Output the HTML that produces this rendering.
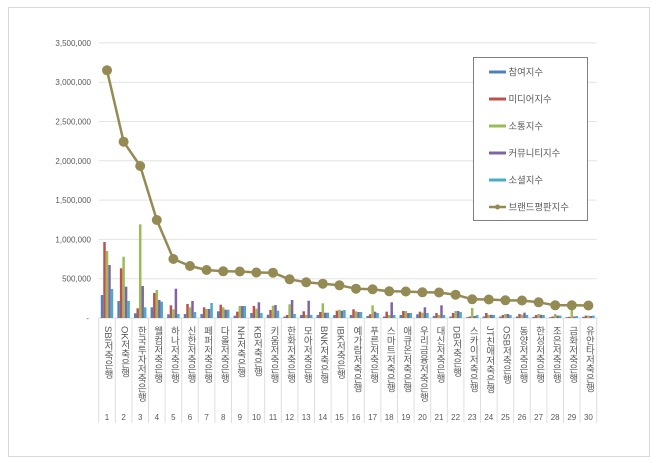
<!DOCTYPE html>
<html><head><meta charset="utf-8"><style>
html,body{margin:0;padding:0;background:#fff;}
#c{position:relative;width:660px;height:463px;overflow:hidden;font-family:"Liberation Sans","Noto Sans CJK KR",sans-serif;}
svg{position:absolute;left:0;top:0;}
.lb{position:absolute;top:326px;width:10px;writing-mode:vertical-rl;text-orientation:mixed;font-size:9.5px;line-height:10px;color:#595959;white-space:nowrap;font-family:"Liberation Sans","Noto Sans CJK KR",sans-serif;}
</style></head><body><div id="c">
<svg width="660" height="463" viewBox="0 0 660 463" xmlns="http://www.w3.org/2000/svg" font-family="Liberation Sans, Noto Sans CJK KR, sans-serif">
<rect x="8.5" y="7.5" width="641" height="449" fill="#fff" stroke="#d9d9d9"/>
<g stroke="#e3e3e3" stroke-width="1">
<line x1="98.7" x2="596.7" y1="42.9" y2="42.9"/>
<line x1="98.7" x2="596.7" y1="82.2" y2="82.2"/>
<line x1="98.7" x2="596.7" y1="121.5" y2="121.5"/>
<line x1="98.7" x2="596.7" y1="160.8" y2="160.8"/>
<line x1="98.7" x2="596.7" y1="200.1" y2="200.1"/>
<line x1="98.7" x2="596.7" y1="239.4" y2="239.4"/>
<line x1="98.7" x2="596.7" y1="278.7" y2="278.7"/>
</g>
<line x1="98.7" x2="596.7" y1="318" y2="318" stroke="#d9d9d9"/>
<g stroke="#dedede" stroke-width="1">
<line x1="98.7" x2="98.7" y1="318" y2="423"/><line x1="115.3" x2="115.3" y1="318" y2="423"/><line x1="131.9" x2="131.9" y1="318" y2="423"/><line x1="148.5" x2="148.5" y1="318" y2="423"/><line x1="165.1" x2="165.1" y1="318" y2="423"/><line x1="181.7" x2="181.7" y1="318" y2="423"/><line x1="198.3" x2="198.3" y1="318" y2="423"/><line x1="214.9" x2="214.9" y1="318" y2="423"/><line x1="231.5" x2="231.5" y1="318" y2="423"/><line x1="248.1" x2="248.1" y1="318" y2="423"/><line x1="264.7" x2="264.7" y1="318" y2="423"/><line x1="281.3" x2="281.3" y1="318" y2="423"/><line x1="297.9" x2="297.9" y1="318" y2="423"/><line x1="314.5" x2="314.5" y1="318" y2="423"/><line x1="331.1" x2="331.1" y1="318" y2="423"/><line x1="347.7" x2="347.7" y1="318" y2="423"/><line x1="364.3" x2="364.3" y1="318" y2="423"/><line x1="380.9" x2="380.9" y1="318" y2="423"/><line x1="397.5" x2="397.5" y1="318" y2="423"/><line x1="414.1" x2="414.1" y1="318" y2="423"/><line x1="430.7" x2="430.7" y1="318" y2="423"/><line x1="447.3" x2="447.3" y1="318" y2="423"/><line x1="463.9" x2="463.9" y1="318" y2="423"/><line x1="480.5" x2="480.5" y1="318" y2="423"/><line x1="497.1" x2="497.1" y1="318" y2="423"/><line x1="513.7" x2="513.7" y1="318" y2="423"/><line x1="530.3" x2="530.3" y1="318" y2="423"/><line x1="546.9" x2="546.9" y1="318" y2="423"/><line x1="563.5" x2="563.5" y1="318" y2="423"/><line x1="580.1" x2="580.1" y1="318" y2="423"/><line x1="596.7" x2="596.7" y1="318" y2="423"/>
</g>
<g font-size="8" fill="#595959" text-anchor="end">
<text x="91" y="45.9">3,500,000</text>
<text x="91" y="85.2">3,000,000</text>
<text x="91" y="124.5">2,500,000</text>
<text x="91" y="163.8">2,000,000</text>
<text x="91" y="203.1">1,500,000</text>
<text x="91" y="242.4">1,000,000</text>
<text x="91" y="281.7">500,000</text>
<text x="89" y="321">-</text>
</g>
<g id="bars">
<g transform="translate(107.0,0)"><rect x="-6.22" y="295" width="2.49" height="23" fill="#4F81BD"/><rect x="-3.73" y="242" width="2.49" height="76" fill="#C0504D"/><rect x="-1.24" y="251" width="2.49" height="67" fill="#9BBB59"/><rect x="1.25" y="265" width="2.49" height="53" fill="#8064A2"/><rect x="3.74" y="289" width="2.49" height="29" fill="#4BACC6"/></g>
<g transform="translate(123.6,0)"><rect x="-6.22" y="301" width="2.49" height="17" fill="#4F81BD"/><rect x="-3.73" y="268.3" width="2.49" height="49.7" fill="#C0504D"/><rect x="-1.24" y="256.7" width="2.49" height="61.3" fill="#9BBB59"/><rect x="1.25" y="286.7" width="2.49" height="31.3" fill="#8064A2"/><rect x="3.74" y="301" width="2.49" height="17" fill="#4BACC6"/></g>
<g transform="translate(140.2,0)"><rect x="-6.22" y="313.3" width="2.49" height="4.7" fill="#4F81BD"/><rect x="-3.73" y="308.3" width="2.49" height="9.7" fill="#C0504D"/><rect x="-1.24" y="224.3" width="2.49" height="93.7" fill="#9BBB59"/><rect x="1.25" y="286" width="2.49" height="32" fill="#8064A2"/><rect x="3.74" y="307.3" width="2.49" height="10.7" fill="#4BACC6"/></g>
<g transform="translate(156.8,0)"><rect x="-6.22" y="307.3" width="2.49" height="10.7" fill="#4F81BD"/><rect x="-3.73" y="293" width="2.49" height="25" fill="#C0504D"/><rect x="-1.24" y="290" width="2.49" height="28" fill="#9BBB59"/><rect x="1.25" y="300" width="2.49" height="18" fill="#8064A2"/><rect x="3.74" y="301.7" width="2.49" height="16.3" fill="#4BACC6"/></g>
<g transform="translate(173.4,0)"><rect x="-6.22" y="314.3" width="2.49" height="3.7" fill="#4F81BD"/><rect x="-3.73" y="305.3" width="2.49" height="12.7" fill="#C0504D"/><rect x="-1.24" y="309.3" width="2.49" height="8.7" fill="#9BBB59"/><rect x="1.25" y="288.7" width="2.49" height="29.3" fill="#8064A2"/><rect x="3.74" y="314" width="2.49" height="4" fill="#4BACC6"/></g>
<g transform="translate(190.0,0)"><rect x="-6.22" y="314" width="2.49" height="4" fill="#4F81BD"/><rect x="-3.73" y="304" width="2.49" height="14" fill="#C0504D"/><rect x="-1.24" y="307.3" width="2.49" height="10.7" fill="#9BBB59"/><rect x="1.25" y="301" width="2.49" height="17" fill="#8064A2"/><rect x="3.74" y="312" width="2.49" height="6" fill="#4BACC6"/></g>
<g transform="translate(206.6,0)"><rect x="-6.22" y="314" width="2.49" height="4" fill="#4F81BD"/><rect x="-3.73" y="307.3" width="2.49" height="10.7" fill="#C0504D"/><rect x="-1.24" y="309" width="2.49" height="9" fill="#9BBB59"/><rect x="1.25" y="309" width="2.49" height="9" fill="#8064A2"/><rect x="3.74" y="303" width="2.49" height="15" fill="#4BACC6"/></g>
<g transform="translate(223.2,0)"><rect x="-6.22" y="311.3" width="2.49" height="6.7" fill="#4F81BD"/><rect x="-3.73" y="304.7" width="2.49" height="13.3" fill="#C0504D"/><rect x="-1.24" y="307.3" width="2.49" height="10.7" fill="#9BBB59"/><rect x="1.25" y="309.7" width="2.49" height="8.3" fill="#8064A2"/><rect x="3.74" y="309.7" width="2.49" height="8.3" fill="#4BACC6"/></g>
<g transform="translate(239.8,0)"><rect x="-6.22" y="315.7" width="2.49" height="2.3" fill="#4F81BD"/><rect x="-3.73" y="311.7" width="2.49" height="6.3" fill="#C0504D"/><rect x="-1.24" y="306" width="2.49" height="12" fill="#9BBB59"/><rect x="1.25" y="306" width="2.49" height="12" fill="#8064A2"/><rect x="3.74" y="306" width="2.49" height="12" fill="#4BACC6"/></g>
<g transform="translate(256.4,0)"><rect x="-6.22" y="313" width="2.49" height="5" fill="#4F81BD"/><rect x="-3.73" y="306" width="2.49" height="12" fill="#C0504D"/><rect x="-1.24" y="308.7" width="2.49" height="9.3" fill="#9BBB59"/><rect x="1.25" y="302.3" width="2.49" height="15.7" fill="#8064A2"/><rect x="3.74" y="313" width="2.49" height="5" fill="#4BACC6"/></g>
<g transform="translate(273.0,0)"><rect x="-6.22" y="314.7" width="2.49" height="3.3" fill="#4F81BD"/><rect x="-3.73" y="310" width="2.49" height="8" fill="#C0504D"/><rect x="-1.24" y="305.7" width="2.49" height="12.3" fill="#9BBB59"/><rect x="1.25" y="305" width="2.49" height="13" fill="#8064A2"/><rect x="3.74" y="310.7" width="2.49" height="7.3" fill="#4BACC6"/></g>
<g transform="translate(289.6,0)"><rect x="-6.22" y="316.5" width="2.49" height="1.5" fill="#4F81BD"/><rect x="-3.73" y="315" width="2.49" height="3" fill="#C0504D"/><rect x="-1.24" y="304.3" width="2.49" height="13.7" fill="#9BBB59"/><rect x="1.25" y="300" width="2.49" height="18" fill="#8064A2"/><rect x="3.74" y="314" width="2.49" height="4" fill="#4BACC6"/></g>
<g transform="translate(306.2,0)"><rect x="-6.22" y="315" width="2.49" height="3" fill="#4F81BD"/><rect x="-3.73" y="311.3" width="2.49" height="6.7" fill="#C0504D"/><rect x="-1.24" y="315" width="2.49" height="3" fill="#9BBB59"/><rect x="1.25" y="300.7" width="2.49" height="17.3" fill="#8064A2"/><rect x="3.74" y="315" width="2.49" height="3" fill="#4BACC6"/></g>
<g transform="translate(322.8,0)"><rect x="-6.22" y="315" width="2.49" height="3" fill="#4F81BD"/><rect x="-3.73" y="312" width="2.49" height="6" fill="#C0504D"/><rect x="-1.24" y="303.3" width="2.49" height="14.7" fill="#9BBB59"/><rect x="1.25" y="312.7" width="2.49" height="5.3" fill="#8064A2"/><rect x="3.74" y="312.7" width="2.49" height="5.3" fill="#4BACC6"/></g>
<g transform="translate(339.4,0)"><rect x="-6.22" y="315" width="2.49" height="3" fill="#4F81BD"/><rect x="-3.73" y="310.7" width="2.49" height="7.3" fill="#C0504D"/><rect x="-1.24" y="309.7" width="2.49" height="8.3" fill="#9BBB59"/><rect x="1.25" y="310.7" width="2.49" height="7.3" fill="#8064A2"/><rect x="3.74" y="310" width="2.49" height="8" fill="#4BACC6"/></g>
<g transform="translate(356.0,0)"><rect x="-6.22" y="315" width="2.49" height="3" fill="#4F81BD"/><rect x="-3.73" y="309.3" width="2.49" height="8.7" fill="#C0504D"/><rect x="-1.24" y="311.3" width="2.49" height="6.7" fill="#9BBB59"/><rect x="1.25" y="312" width="2.49" height="6" fill="#8064A2"/><rect x="3.74" y="312" width="2.49" height="6" fill="#4BACC6"/></g>
<g transform="translate(372.6,0)"><rect x="-6.22" y="316" width="2.49" height="2" fill="#4F81BD"/><rect x="-3.73" y="314.3" width="2.49" height="3.7" fill="#C0504D"/><rect x="-1.24" y="305.3" width="2.49" height="12.7" fill="#9BBB59"/><rect x="1.25" y="311.7" width="2.49" height="6.3" fill="#8064A2"/><rect x="3.74" y="313" width="2.49" height="5" fill="#4BACC6"/></g>
<g transform="translate(389.2,0)"><rect x="-6.22" y="316.5" width="2.49" height="1.5" fill="#4F81BD"/><rect x="-3.73" y="311.7" width="2.49" height="6.3" fill="#C0504D"/><rect x="-1.24" y="315" width="2.49" height="3" fill="#9BBB59"/><rect x="1.25" y="302.3" width="2.49" height="15.7" fill="#8064A2"/><rect x="3.74" y="315" width="2.49" height="3" fill="#4BACC6"/></g>
<g transform="translate(405.8,0)"><rect x="-6.22" y="315" width="2.49" height="3" fill="#4F81BD"/><rect x="-3.73" y="311" width="2.49" height="7" fill="#C0504D"/><rect x="-1.24" y="311" width="2.49" height="7" fill="#9BBB59"/><rect x="1.25" y="313" width="2.49" height="5" fill="#8064A2"/><rect x="3.74" y="313" width="2.49" height="5" fill="#4BACC6"/></g>
<g transform="translate(422.4,0)"><rect x="-6.22" y="314.3" width="2.49" height="3.7" fill="#4F81BD"/><rect x="-3.73" y="311.7" width="2.49" height="6.3" fill="#C0504D"/><rect x="-1.24" y="312.7" width="2.49" height="5.3" fill="#9BBB59"/><rect x="1.25" y="307.3" width="2.49" height="10.7" fill="#8064A2"/><rect x="3.74" y="313" width="2.49" height="5" fill="#4BACC6"/></g>
<g transform="translate(439.0,0)"><rect x="-6.22" y="316" width="2.49" height="2" fill="#4F81BD"/><rect x="-3.73" y="313" width="2.49" height="5" fill="#C0504D"/><rect x="-1.24" y="315" width="2.49" height="3" fill="#9BBB59"/><rect x="1.25" y="305.3" width="2.49" height="12.7" fill="#8064A2"/><rect x="3.74" y="315" width="2.49" height="3" fill="#4BACC6"/></g>
<g transform="translate(455.6,0)"><rect x="-6.22" y="316.5" width="2.49" height="1.5" fill="#4F81BD"/><rect x="-3.73" y="313" width="2.49" height="5" fill="#C0504D"/><rect x="-1.24" y="311" width="2.49" height="7" fill="#9BBB59"/><rect x="1.25" y="311" width="2.49" height="7" fill="#8064A2"/><rect x="3.74" y="312" width="2.49" height="6" fill="#4BACC6"/></g>
<g transform="translate(472.2,0)"><rect x="-6.22" y="317.2" width="2.49" height="0.8" fill="#4F81BD"/><rect x="-3.73" y="316.5" width="2.49" height="1.5" fill="#C0504D"/><rect x="-1.24" y="308" width="2.49" height="10" fill="#9BBB59"/><rect x="1.25" y="316" width="2.49" height="2" fill="#8064A2"/><rect x="3.74" y="315" width="2.49" height="3" fill="#4BACC6"/></g>
<g transform="translate(488.8,0)"><rect x="-6.22" y="316.5" width="2.49" height="1.5" fill="#4F81BD"/><rect x="-3.73" y="313" width="2.49" height="5" fill="#C0504D"/><rect x="-1.24" y="315" width="2.49" height="3" fill="#9BBB59"/><rect x="1.25" y="314.8" width="2.49" height="3.2" fill="#8064A2"/><rect x="3.74" y="315" width="2.49" height="3" fill="#4BACC6"/></g>
<g transform="translate(505.4,0)"><rect x="-6.22" y="316.5" width="2.49" height="1.5" fill="#4F81BD"/><rect x="-3.73" y="315" width="2.49" height="3" fill="#C0504D"/><rect x="-1.24" y="314" width="2.49" height="4" fill="#9BBB59"/><rect x="1.25" y="314" width="2.49" height="4" fill="#8064A2"/><rect x="3.74" y="315" width="2.49" height="3" fill="#4BACC6"/></g>
<g transform="translate(522.0,0)"><rect x="-6.22" y="316.5" width="2.49" height="1.5" fill="#4F81BD"/><rect x="-3.73" y="314" width="2.49" height="4" fill="#C0504D"/><rect x="-1.24" y="314.8" width="2.49" height="3.2" fill="#9BBB59"/><rect x="1.25" y="312.7" width="2.49" height="5.3" fill="#8064A2"/><rect x="3.74" y="315" width="2.49" height="3" fill="#4BACC6"/></g>
<g transform="translate(538.6,0)"><rect x="-6.22" y="316.8" width="2.49" height="1.2" fill="#4F81BD"/><rect x="-3.73" y="315" width="2.49" height="3" fill="#C0504D"/><rect x="-1.24" y="314" width="2.49" height="4" fill="#9BBB59"/><rect x="1.25" y="314.8" width="2.49" height="3.2" fill="#8064A2"/><rect x="3.74" y="315" width="2.49" height="3" fill="#4BACC6"/></g>
<g transform="translate(555.2,0)"><rect x="-6.22" y="317.2" width="2.49" height="0.8" fill="#4F81BD"/><rect x="-3.73" y="316.5" width="2.49" height="1.5" fill="#C0504D"/><rect x="-1.24" y="314" width="2.49" height="4" fill="#9BBB59"/><rect x="1.25" y="315.6" width="2.49" height="2.4" fill="#8064A2"/><rect x="3.74" y="315.6" width="2.49" height="2.4" fill="#4BACC6"/></g>
<g transform="translate(571.8,0)"><rect x="-6.22" y="317.2" width="2.49" height="0.8" fill="#4F81BD"/><rect x="-3.73" y="316.8" width="2.49" height="1.2" fill="#C0504D"/><rect x="-1.24" y="302" width="2.49" height="16" fill="#9BBB59"/><rect x="1.25" y="316.5" width="2.49" height="1.5" fill="#8064A2"/><rect x="3.74" y="316" width="2.49" height="2" fill="#4BACC6"/></g>
<g transform="translate(588.4,0)"><rect x="-6.22" y="316.8" width="2.49" height="1.2" fill="#4F81BD"/><rect x="-3.73" y="315.6" width="2.49" height="2.4" fill="#C0504D"/><rect x="-1.24" y="315.6" width="2.49" height="2.4" fill="#9BBB59"/><rect x="1.25" y="316" width="2.49" height="2" fill="#8064A2"/><rect x="3.74" y="315.6" width="2.49" height="2.4" fill="#4BACC6"/></g>
</g>
<polyline fill="none" stroke="#948A54" stroke-width="2.5" stroke-linejoin="round" points="107.0,70.3 123.6,141.7 140.2,166 156.8,220 173.4,259 190.0,266 206.6,270 223.2,271.3 239.8,271.5 256.4,272.5 273.0,272.7 289.6,279.3 306.2,282.3 322.8,283.7 339.4,285.3 356.0,288.7 372.6,289.3 389.2,291.3 405.8,291.5 422.4,292.3 439.0,292.5 455.6,294.7 472.2,299.3 488.8,299.5 505.4,300.3 522.0,300.5 538.6,302.3 555.2,305.3 571.8,305.3 588.4,305.5"/>
<g fill="#948A54">
<circle cx="107.0" cy="70.3" r="5"/><circle cx="123.6" cy="141.7" r="5"/><circle cx="140.2" cy="166" r="5"/><circle cx="156.8" cy="220" r="5"/><circle cx="173.4" cy="259" r="5"/><circle cx="190.0" cy="266" r="5"/><circle cx="206.6" cy="270" r="5"/><circle cx="223.2" cy="271.3" r="5"/><circle cx="239.8" cy="271.5" r="5"/><circle cx="256.4" cy="272.5" r="5"/><circle cx="273.0" cy="272.7" r="5"/><circle cx="289.6" cy="279.3" r="5"/><circle cx="306.2" cy="282.3" r="5"/><circle cx="322.8" cy="283.7" r="5"/><circle cx="339.4" cy="285.3" r="5"/><circle cx="356.0" cy="288.7" r="5"/><circle cx="372.6" cy="289.3" r="5"/><circle cx="389.2" cy="291.3" r="5"/><circle cx="405.8" cy="291.5" r="5"/><circle cx="422.4" cy="292.3" r="5"/><circle cx="439.0" cy="292.5" r="5"/><circle cx="455.6" cy="294.7" r="5"/><circle cx="472.2" cy="299.3" r="5"/><circle cx="488.8" cy="299.5" r="5"/><circle cx="505.4" cy="300.3" r="5"/><circle cx="522.0" cy="300.5" r="5"/><circle cx="538.6" cy="302.3" r="5"/><circle cx="555.2" cy="305.3" r="5"/><circle cx="571.8" cy="305.3" r="5"/><circle cx="588.4" cy="305.5" r="5"/>
</g>
<g font-size="8" fill="#595959" text-anchor="middle">
<text x="107.0" y="420">1</text><text x="123.6" y="420">2</text><text x="140.2" y="420">3</text><text x="156.8" y="420">4</text><text x="173.4" y="420">5</text><text x="190.0" y="420">6</text><text x="206.6" y="420">7</text><text x="223.2" y="420">8</text><text x="239.8" y="420">9</text><text x="256.4" y="420">10</text><text x="273.0" y="420">11</text><text x="289.6" y="420">12</text><text x="306.2" y="420">13</text><text x="322.8" y="420">14</text><text x="339.4" y="420">15</text><text x="356.0" y="420">16</text><text x="372.6" y="420">17</text><text x="389.2" y="420">18</text><text x="405.8" y="420">19</text><text x="422.4" y="420">20</text><text x="439.0" y="420">21</text><text x="455.6" y="420">22</text><text x="472.2" y="420">23</text><text x="488.8" y="420">24</text><text x="505.4" y="420">25</text><text x="522.0" y="420">26</text><text x="538.6" y="420">27</text><text x="555.2" y="420">28</text><text x="571.8" y="420">29</text><text x="588.4" y="420">30</text>
</g>
<rect x="473.5" y="57.5" width="114" height="163" fill="#fff" stroke="#808080"/>
<rect x="489" y="70.5" width="17" height="3" fill="#4F81BD"/>
<rect x="489" y="97.5" width="17" height="3" fill="#C0504D"/>
<rect x="489" y="124.5" width="17" height="3" fill="#9BBB59"/>
<rect x="489" y="151.5" width="17" height="3" fill="#8064A2"/>
<rect x="489" y="178.5" width="17" height="3" fill="#4BACC6"/>
<line x1="489" x2="506" y1="207" y2="207" stroke="#948A54" stroke-width="2.5"/>
<circle cx="497.5" cy="207" r="2.5" fill="#948A54"/>
<g font-size="9.4" fill="#595959">
<text x="508.5" y="75.3">참여지수</text>
<text x="508.5" y="102.3">미디어지수</text>
<text x="508.5" y="129.3">소통지수</text>
<text x="508.5" y="156.3">커뮤니티지수</text>
<text x="508.5" y="183.3">소셜지수</text>
<text x="508.5" y="210.3">브랜드평판지수</text>
</g>
</svg>
<div class="lb" style="left:102.0px">SBI저축은행</div>
<div class="lb" style="left:118.6px">OK저축은행</div>
<div class="lb" style="left:135.2px">한국투자저축은행</div>
<div class="lb" style="left:151.8px">웰컴저축은행</div>
<div class="lb" style="left:168.4px">하나저축은행</div>
<div class="lb" style="left:185.0px">신한저축은행</div>
<div class="lb" style="left:201.6px">페퍼저축은행</div>
<div class="lb" style="left:218.2px">다올저축은행</div>
<div class="lb" style="left:234.8px">NH저축은행</div>
<div class="lb" style="left:251.4px">KB저축은행</div>
<div class="lb" style="left:268.0px">키움저축은행</div>
<div class="lb" style="left:284.6px">한화저축은행</div>
<div class="lb" style="left:301.2px">모아저축은행</div>
<div class="lb" style="left:317.8px">BNK저축은행</div>
<div class="lb" style="left:334.4px">IBK저축은행</div>
<div class="lb" style="left:351.0px">예가람저축은행</div>
<div class="lb" style="left:367.6px">푸른저축은행</div>
<div class="lb" style="left:384.2px">스마트저축은행</div>
<div class="lb" style="left:400.8px">애큐온저축은행</div>
<div class="lb" style="left:417.4px">우리금융저축은행</div>
<div class="lb" style="left:434.0px">대신저축은행</div>
<div class="lb" style="left:450.6px">DB저축은행</div>
<div class="lb" style="left:467.2px">스카이저축은행</div>
<div class="lb" style="left:483.8px">JT친애저축은행</div>
<div class="lb" style="left:500.4px">OSB저축은행</div>
<div class="lb" style="left:517.0px">동양저축은행</div>
<div class="lb" style="left:533.6px">한성저축은행</div>
<div class="lb" style="left:550.2px">조은저축은행</div>
<div class="lb" style="left:566.8px">금화저축은행</div>
<div class="lb" style="left:583.4px">유안타저축은행</div>
</div></body></html>
